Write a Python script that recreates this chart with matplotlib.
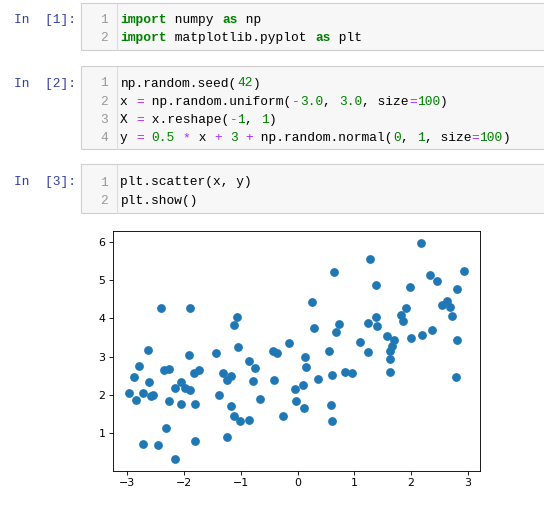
# Jupyter notebook screenshot: three code cells and the scatter plot output
import matplotlib.pyplot as plt
from matplotlib.patches import Rectangle

# scatter points
x_vals = [-2.403, -1.887, -1.060, -1.124, -2.640, -1.053, -1.435, -1.905, 0.637, 0.250,
          0.290, 0.736, 0.678, -0.155, -0.426, -0.356, 0.560, 1.106, 0.132, 2.169,
          1.276, 2.926, 2.327, 2.462, 1.376, 1.975, 2.808, 2.638, 2.539, 2.690,
          2.714, 1.905, 1.822, 1.857, 1.376, 1.241, 1.394, 2.363, 2.186, 1.998,
          1.570, 1.699, 2.808, 1.658, 1.628, 1.241, 1.623, 1.628, 2.785, -0.854,
          -0.754, -0.789, -0.408, 0.150, 0.367, 0.602, 0.831, 0.965, -0.039, 0.097,
          -0.666, -0.021, 0.114, 0.585, -0.250, 0.602, -1.012, -0.854, -2.790, -2.873,
          -2.614, -2.345, -2.262, -1.822, -1.729, -2.056, -2.151, -1.975, -1.898, -2.967,
          -2.715, -2.585, -2.539, -2.849, -2.268, -2.056, -1.799, -1.317, -1.236, -1.165,
          -1.377, -1.165, -1.124, -2.310, -2.715, -2.461, -1.805, -1.247, -2.151]
y_vals = [4.26, 4.26, 4.03, 3.84, 3.18, 3.26, 3.09, 3.04, 5.21, 4.44,
          3.75, 3.86, 3.64, 3.35, 3.16, 3.10, 3.14, 3.38, 3.00, 5.96,
          5.56, 5.25, 5.13, 4.98, 4.86, 4.81, 4.76, 4.45, 4.35, 4.29,
          4.06, 4.27, 4.10, 3.92, 4.04, 3.89, 3.81, 3.70, 3.57, 3.49,
          3.55, 3.44, 3.44, 3.27, 3.16, 3.13, 2.95, 2.61, 2.48, 2.90,
          2.71, 2.37, 2.40, 2.74, 2.43, 2.51, 2.60, 2.57, 2.16, 2.25,
          1.89, 1.83, 1.65, 1.74, 1.45, 1.31, 1.31, 1.34, 2.75, 2.48,
          2.34, 2.65, 2.69, 2.57, 2.65, 2.34, 2.19, 2.19, 2.13, 2.06,
          2.06, 1.97, 1.99, 1.86, 1.83, 1.77, 1.77, 2.57, 2.40, 2.49,
          2.00, 1.71, 1.45, 1.14, 0.73, 0.70, 0.79, 0.91, 0.34]
x_ticks = [-3, -2, -1, 0, 1, 2, 3]
y_ticks = [1, 2, 3, 4, 5, 6]

# code cells: (prompt, lines); each line is a list of (text, kind)
cell_prompts = ["In  [1]:", "In  [2]:", "In  [3]:"]
cell_lines = [
    [
        [("import", "kw"), (" numpy ", ""), ("as", "kw"), (" np", "")],
        [("import", "kw"), (" matplotlib.pyplot ", ""), ("as", "kw"), (" plt", "")],
    ],
    [
        [("np.random.seed(", ""), ("42", "num"), (")", "")],
        [("x ", ""), ("=", "op"), (" np.random.uniform(", ""), ("-", "op"), ("3.0", "num"),
         (", ", ""), ("3.0", "num"), (", size", ""), ("=", "op"), ("100", "num"), (")", "")],
        [("X ", ""), ("=", "op"), (" x.reshape(", ""), ("-", "op"), ("1", "num"),
         (", ", ""), ("1", "num"), (")", "")],
        [("y ", ""), ("=", "op"), (" ", ""), ("0.5", "num"), (" ", ""), ("*", "op"),
         (" x ", ""), ("+", "op"), (" ", ""), ("3", "num"), (" ", ""), ("+", "op"),
         (" np.random.normal(", ""), ("0", "num"), (", ", ""), ("1", "num"), (", size", ""),
         ("=", "op"), ("100", "num"), (")", "")],
    ],
    [
        [("plt.scatter(x, y)", "")],
        [("plt.show()", "")],
    ],
]

cell_top = [3, 66, 164]
cell_bottom = [50, 149, 213]
first_baseline = [22.7, 86.5, 185.5]
line_step = 18.2
char_w = 7.8
code_x = 120.5
mono = "Liberation Mono"
fsize = 9.3
colors = {"": "black", "kw": "#008000", "num": "#008000", "op": "#AA22FF"}

fig = plt.figure(figsize=(5.44, 5.05), dpi=100)

nb = fig.add_axes([0, 0, 1, 1])
nb.set_xlim(0, 544)
nb.set_ylim(505, 0)
nb.axis("off")

for i, lines in enumerate(cell_lines):
    top, bot = cell_top[i], cell_bottom[i]
    nb.add_patch(Rectangle((80.5, top), 480, bot - top, facecolor="#f7f7f7",
                           edgecolor="#cfcfcf", linewidth=0.8))
    nb.plot([116.5, 116.5], [top + 0.5, bot - 0.5], color="#dddddd", linewidth=0.8)
    nb.text(14, first_baseline[i], cell_prompts[i], family=mono, fontsize=fsize,
            color="#303F9F", va="baseline", ha="left")
    for j, tokens in enumerate(lines):
        base = first_baseline[i] + j * line_step
        nb.text(104, base, str(j + 1), family=mono, fontsize=fsize, color="#999999",
                va="baseline", ha="center")
        col = 0
        for text, kind in tokens:
            nb.text(code_x + col * char_w, base, text, family=mono, fontsize=fsize,
                    color=colors[kind], fontweight="bold" if kind == "kw" else "normal",
                    va="baseline", ha="left")
            col += len(text)

# scatter output
ax = fig.add_axes([112.7 / 544, 1 - 470.7 / 505, 367.3 / 544, 239.4 / 505])
ax.scatter(x_vals, y_vals, s=28, color="#1f77b4")
ax.set_xlim(-3.254, 3.213)
ax.set_ylim(0.023, 6.274)
ax.set_xticks(x_ticks)
ax.set_yticks(y_ticks)
ax.tick_params(labelsize=7.9, length=2.75, width=0.63, pad=2.5)
for s in ax.spines.values():
    s.set_linewidth(0.63)

plt.savefig("out.png", dpi=100)
